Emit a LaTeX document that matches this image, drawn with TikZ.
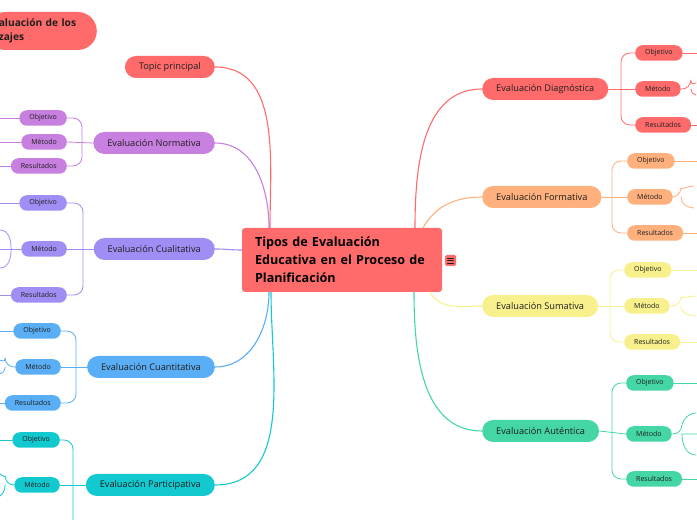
\documentclass[tikz,border=0pt]{standalone}
\usepackage{fontspec}
\setmainfont{Open Sans}
\definecolor{rojo}{HTML}{FF6B6B}
\definecolor{naranja}{HTML}{FFB07C}
\definecolor{amarillo}{HTML}{F8F08C}
\definecolor{verde}{HTML}{45D6A5}
\definecolor{turquesa}{HTML}{12C9CF}
\definecolor{azul}{HTML}{5AAEF5}
\definecolor{lila}{HTML}{A08EF5}
\definecolor{morado}{HTML}{C77FE0}
\definecolor{texto}{HTML}{1E1E1E}
\begin{document}
\begin{tikzpicture}[x=1pt, y=1pt, line cap=round, line join=round,
	rama/.style={rounded corners=11pt, minimum height=22pt, inner xsep=14pt, inner ysep=0pt, font=\fontsize{9.2}{10}\selectfont, text=texto},
	sub/.style={rounded corners=7.5pt, minimum height=15.5pt, inner xsep=10pt, inner ysep=0pt, font=\fontsize{7}{7}\selectfont, text=texto},
	enlace/.style={line width=1.1pt},
	fino/.style={line width=0.8pt, rounded corners=9pt}]
	\path[use as bounding box] (0,0) rectangle (697,520);
	\clip (0,0) rectangle (697,520);
	\coordinate (borde) at (697,0);
	\coordinate (bordeizq) at (0,0);
	
	\node[fill=rojo, rounded corners=3pt, minimum height=64pt, text width=174pt, inner xsep=13pt, align=left, font=\fontsize{12.6}{18}\selectfont\bfseries, text=black] (tipos) at (342,260) {Tipos de Evaluación\\Educativa en el Proceso de\\Planificación};
	\node[fill=rojo, rounded corners=1.5pt, minimum size=11pt, inner sep=0pt] (menu) at (450.5,259.5) {};
	\draw[texto, line width=0.6pt] ([shift={(-3,2.5)}]menu.center) -- ++(6,0) ([shift={(-3,0)}]menu.center) -- ++(6,0) ([shift={(-3,-2.5)}]menu.center) -- ++(6,0);
	
	\node[fill=rojo, rounded corners=19pt, minimum height=38pt, text width=86pt, inner xsep=12pt, align=left, anchor=east, font=\fontsize{10.2}{14}\selectfont, text=texto] (aprendizajes) at (97,489) {\bfseries aluación de los\\{\bfseries zaje}s};
	
	\node[rama, fill=rojo, anchor=east] (topic) at (215,453) {Topic principal};
	\node[rama, fill=morado, anchor=east] (normativa) at (215,377) {Evaluación Normativa};
	\node[rama, fill=lila, anchor=east] (cualitativa) at (215,271) {Evaluación Cualitativa};
	\node[rama, fill=azul, anchor=east] (cuantitativa) at (215,153) {Evaluación Cuantitativa};
	\node[rama, fill=turquesa, anchor=east] (participativa) at (215,35) {Evaluación Participativa};
	\node[rama, fill=rojo, anchor=west] (diagnostica) at (482,431) {Evaluación Diagnóstica};
	\node[rama, fill=naranja, anchor=west] (formativa) at (482,323) {Evaluación Formativa};
	\node[rama, fill=amarillo, anchor=west] (sumativa) at (482,214) {Evaluación Sumativa};
	\node[rama, fill=verde, anchor=west] (autentica) at (482,89) {Evaluación Auténtica};
	
	\draw[enlace, rojo] (topic.east) to[out=0, in=90] ([xshift=-72pt]tipos.north);
	\draw[enlace, morado] (normativa.east) to[out=0, in=90] ([xshift=-73pt]tipos.north);
	\draw[enlace, lila] (cualitativa.east) to[out=0, in=180] ([yshift=10pt]tipos.west);
	\draw[enlace, azul] (cuantitativa.east) to[out=0, in=-90] ([xshift=-73pt]tipos.south);
	\draw[enlace, turquesa] (participativa.east) to[out=0, in=-90] ([xshift=-71pt]tipos.south);
	\draw[enlace, rojo] (diagnostica.west) to[out=180, in=90] ([xshift=73pt]tipos.north);
	\draw[enlace, naranja] (formativa.west) to[out=180, in=60] ([xshift=81pt]tipos.north);
	\draw[enlace, amarillo] (sumativa.west) to[out=180, in=-60] ([xshift=88pt]tipos.south);
	\draw[enlace, verde] (autentica.west) to[out=180, in=-90] ([xshift=72pt]tipos.south);
	
	\node[sub, fill=rojo, anchor=west] (dobj) at (635,467) {Objetivo};
	\node[sub, fill=rojo, anchor=west] (dmet) at (635,431) {Método};
	\node[sub, fill=rojo, anchor=west] (dres) at (635,395) {Resultados};
	\draw[fino, rojo] (dobj.west) -| ([xshift=-14pt]dmet.west) |- (dres.west);
	\draw[fino, rojo] (diagnostica.east) -- (dmet.west);
	\draw[fino, rojo] (dobj.east) -- (dobj.east -| borde) (dres.east) -- (dres.east -| borde);
	\draw[fino, rojo] (dmet.east) -- ++(10,0) coordinate (dm) to[out=90, in=180] ++(5,6) (dm) to[out=-90, in=180] ++(5,-6);
	
	\node[sub, fill=naranja, anchor=west] (fobj) at (627,359) {Objetivo};
	\node[sub, fill=naranja, anchor=west] (fmet) at (627,323) {Método};
	\node[sub, fill=naranja, anchor=west] (fres) at (627,287) {Resultados};
	\draw[fino, naranja] (fobj.west) -| ([xshift=-15pt]fmet.west) |- (fres.west);
	\draw[fino, naranja] (formativa.east) -- (fmet.west);
	\draw[fino, naranja] (fobj.east) -- (fobj.east -| borde) (fres.east) -- (fres.east -| borde);
	\draw[fino, naranja] (fmet.east) -- ++(8,0) coordinate (fm) to[out=90, in=180] ++(13,11) (fm) to[out=-90, in=180] ++(13,-11);
	
	\node[sub, fill=amarillo, anchor=west] (sobj) at (624,250) {Objetivo};
	\node[sub, fill=amarillo, anchor=west] (smet) at (624,214) {Método};
	\node[sub, fill=amarillo, anchor=west] (sres) at (624,178) {Resultados};
	\draw[fino, amarillo] (sobj.west) -| ([xshift=-14pt]smet.west) |- (sres.west);
	\draw[fino, amarillo] (sumativa.east) -- (smet.west);
	\draw[fino, amarillo] (sobj.east) -- (sobj.east -| borde) (sres.east) -- (sres.east -| borde);
	\draw[fino, amarillo] (smet.east) -- ++(11,0) coordinate (sm) to[out=90, in=180] ++(15,10) (sm) to[out=-90, in=180] ++(15,-10);
	
	\node[sub, fill=verde, anchor=west] (aobj) at (626,137) {Objetivo};
	\node[sub, fill=verde, anchor=west] (amet) at (626,86) {Método};
	\node[sub, fill=verde, anchor=west] (ares) at (626,41) {Resultados};
	\draw[fino, verde] (aobj.west) -| ([xshift=-14pt]amet.west) |- (ares.west);
	\draw[fino, verde] (autentica.east) -- (amet.west);
	\draw[fino, verde] (aobj.east) -- (aobj.east -| borde) (ares.east) -- (ares.east -| borde);
	\draw[fino, verde] (amet.east) -- ++(10,0) coordinate (am) to[out=90, in=180] ++(14,21) (am) to[out=-90, in=180] ++(14,-21) (am) -- (am -| borde);
	
	\node[sub, fill=morado, anchor=east] (nobj) at (67,402) {Objetivo};
	\node[sub, fill=morado, anchor=east] (nmet) at (67,378) {Método};
	\node[sub, fill=morado, anchor=east] (nres) at (67,354) {Resultados};
	\draw[fino, morado] (nobj.east) -| ([xshift=15pt]nmet.east) |- (nres.east);
	\draw[fino, morado] (normativa.west) -- (nmet.east);
	\draw[fino, morado] (nobj.west) -- (nobj.west -| bordeizq) (nmet.west) -- (nmet.west -| bordeizq) (nres.west) -- (nres.west -| bordeizq);
	
	\node[sub, fill=lila, anchor=east] (qobj) at (67,317) {Objetivo};
	\node[sub, fill=lila, anchor=east] (qmet) at (67,271) {Método};
	\node[sub, fill=lila, anchor=east] (qres) at (67,225) {Resultados};
	\draw[fino, lila] (qobj.east) -| ([xshift=16pt]qmet.east) |- (qres.east);
	\draw[fino, lila] (cualitativa.west) -- (qmet.east);
	\draw[fino, lila] (qobj.west) -- (qobj.west -| bordeizq) (qmet.west) -- (qmet.west -| bordeizq) (qres.west) -- (qres.west -| bordeizq);
	\draw[fino, lila] ([xshift=-10pt]qmet.west) coordinate (qm) to[out=90, in=0] ++(-11,19) (qm) to[out=-90, in=0] ++(-11,-19);
	
	\node[sub, fill=azul, anchor=east] (cobj) at (61,189) {Objetivo};
	\node[sub, fill=azul, anchor=east] (cmet) at (61,153) {Método};
	\node[sub, fill=azul, anchor=east] (cres) at (61,117) {Resultados};
	\draw[fino, azul] (cobj.east) -| ([xshift=15pt]cmet.east) |- (cres.east);
	\draw[fino, azul] (cuantitativa.west) -- (cmet.east);
	\draw[fino, azul] (cobj.west) -- (cobj.west -| bordeizq) (cres.west) -- (cres.west -| bordeizq);
	\draw[fino, azul] (cmet.west) -- ++(-10,0) coordinate (cm) to[out=90, in=0] ++(-7,7) (cm) to[out=-90, in=0] ++(-7,-7);
	
	\node[sub, fill=turquesa, anchor=east] (pobj) at (60,80) {Objetivo};
	\node[sub, fill=turquesa, anchor=east] (pmet) at (60,35) {Método};
	\draw[fino, turquesa] (pobj.east) -| ([xshift=13pt]pmet.east) -- ++(0,-45);
	\draw[fino, turquesa] (participativa.west) -- (pmet.east);
	\draw[fino, turquesa] (pobj.west) -- (pobj.west -| bordeizq);
	\draw[fino, turquesa] (pmet.west) -- ++(-9,0) coordinate (pm) to[out=90, in=0] ++(-9,12) (pm) to[out=-90, in=0] ++(-9,-12);
\end{tikzpicture}
\end{document}
